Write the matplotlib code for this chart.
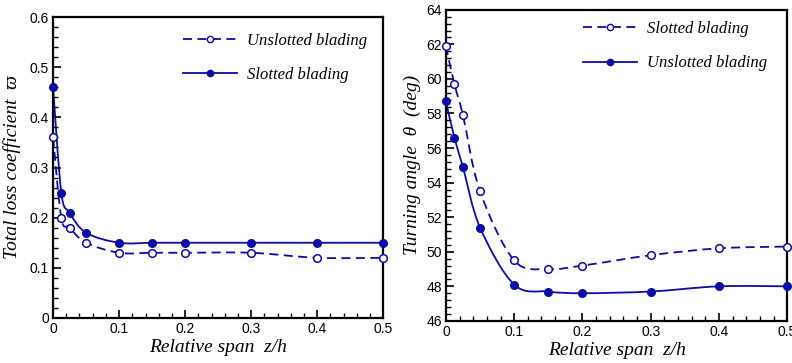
import numpy as np
import matplotlib
matplotlib.use('Agg')
import matplotlib.pyplot as plt
from matplotlib.path import Path
from matplotlib.patches import PathPatch
from matplotlib.lines import Line2D
from matplotlib.ticker import MultipleLocator

# relative span positions
span = [0, 0.0125, 0.025, 0.05, 0.1, 0.15, 0.2, 0.3, 0.4, 0.5]

# total loss coefficient
loss_unslotted = [0.36, 0.20, 0.18, 0.15, 0.13, 0.13, 0.13, 0.13, 0.12, 0.12]
loss_slotted = [0.46, 0.25, 0.21, 0.17, 0.15, 0.15, 0.15, 0.15, 0.15, 0.15]

# turning angle (deg)
turn_slotted = [61.9, 59.7, 57.9, 53.5, 49.5, 49.0, 49.2, 49.8, 50.2, 50.3]
turn_unslotted = [58.7, 56.6, 54.9, 51.4, 48.1, 47.7, 47.6, 47.7, 48.0, 48.0]

blue = '#0c0ca6'
serif = 'Liberation Serif'
sans = 'Liberation Sans'


def smooth_curve(ax, x, y, ls):
    # catmull-rom through the points, drawn as a bezier path in axes coords
    pts = ax.transAxes.inverted().transform(
        ax.transData.transform(np.column_stack([x, y])))
    n = len(pts)
    verts = [pts[0]]
    codes = [Path.MOVETO]
    for i in range(n - 1):
        p0 = pts[max(i - 1, 0)]
        p1 = pts[i]
        p2 = pts[i + 1]
        p3 = pts[min(i + 2, n - 1)]
        c1 = p1 + (p2 - p0) / 6.0
        c2 = p2 - (p3 - p1) / 6.0
        verts += [c1, c2, p2]
        codes += [Path.CURVE4] * 3
    patch = PathPatch(Path(verts, codes), transform=ax.transAxes, fill=False,
                      edgecolor=blue, lw=1.3, linestyle=ls, zorder=2)
    ax.add_patch(patch)


def style_axes(ax):
    for s in ax.spines.values():
        s.set_linewidth(1.6)
    ax.tick_params(which='both', direction='in', top=False, right=False,
                   labelsize=10, pad=3)
    ax.tick_params(which='major', length=6, width=1.2)
    ax.tick_params(which='minor', length=3.5, width=1.0)
    for lab in ax.get_xticklabels() + ax.get_yticklabels():
        lab.set_fontfamily(sans)
    ax.set_xlim(0, 0.5)
    ax.xaxis.set_major_locator(MultipleLocator(0.1))
    ax.xaxis.set_minor_locator(MultipleLocator(0.02))
    ax.set_xticks([0, 0.1, 0.2, 0.3, 0.4, 0.5])
    ax.set_xticklabels(['0', '0.1', '0.2', '0.3', '0.4', '0.5'], fontfamily=sans)
    ax.set_xlabel('Relative span  z/h', fontfamily=serif, style='italic',
                  fontsize=14, labelpad=2)


def add_legend(ax, labels, anchor):
    handles = [
        Line2D([], [], color=blue, ls=(0, (5, 3)), lw=1.3, marker='o',
               mfc='white', mec=blue, ms=4.5),
        Line2D([], [], color=blue, ls='-', lw=1.3, marker='o',
               mfc=blue, mec=blue, ms=4.5),
    ]
    leg = ax.legend(handles, labels, loc='upper right', frameon=False,
                    bbox_to_anchor=anchor, handlelength=3.2,
                    handletextpad=0.6, labelspacing=1.1, borderaxespad=0.0,
                    prop={'family': serif, 'style': 'italic', 'size': 12})
    return leg


fig = plt.figure(figsize=(7.92, 3.63), dpi=100)

# left: total loss coefficient
ax1 = fig.add_axes([0.067, 0.124, 0.417, 0.829])
ax1.set_ylim(0, 0.6)
ax1.yaxis.set_major_locator(MultipleLocator(0.1))
ax1.yaxis.set_minor_locator(MultipleLocator(0.02))
ax1.set_yticks([0, 0.1, 0.2, 0.3, 0.4, 0.5, 0.6])
ax1.set_yticklabels(['0', '0.1', '0.2', '0.3', '0.4', '0.5', '0.6'])
style_axes(ax1)
smooth_curve(ax1, span, loss_unslotted, (0, (5, 3)))
smooth_curve(ax1, span, loss_slotted, '-')
ax1.plot(span, loss_unslotted, 'o', mfc='white', mec=blue, ms=5.5, mew=1.1,
         clip_on=False, zorder=3)
ax1.plot(span, loss_slotted, 'o', mfc=blue, mec=blue, ms=5.5,
         clip_on=False, zorder=3)
ax1.set_ylabel('Total loss coefficient  \u03d6', fontfamily=serif,
               style='italic', fontsize=14, labelpad=6)
add_legend(ax1, ['Unslotted blading', 'Slotted blading'], (0.97, 0.97))

# right: turning angle
ax2 = fig.add_axes([0.563, 0.116, 0.431, 0.857])
ax2.set_ylim(46, 64)
ax2.yaxis.set_major_locator(MultipleLocator(2))
ax2.yaxis.set_minor_locator(MultipleLocator(0.4))
style_axes(ax2)
smooth_curve(ax2, span, turn_slotted, (0, (5, 3)))
smooth_curve(ax2, span, turn_unslotted, '-')
ax2.plot(span, turn_slotted, 'o', mfc='white', mec=blue, ms=5.5, mew=1.1,
         clip_on=False, zorder=3)
ax2.plot(span, turn_unslotted, 'o', mfc=blue, mec=blue, ms=5.5,
         clip_on=False, zorder=3)
ax2.set_ylabel('Turning angle  \u03b8  (deg)', fontfamily=serif,
               style='italic', fontsize=14, labelpad=4)
add_legend(ax2, ['Slotted blading', 'Unslotted blading'], (0.96, 0.985))

fig.savefig('out.png', dpi=100)
